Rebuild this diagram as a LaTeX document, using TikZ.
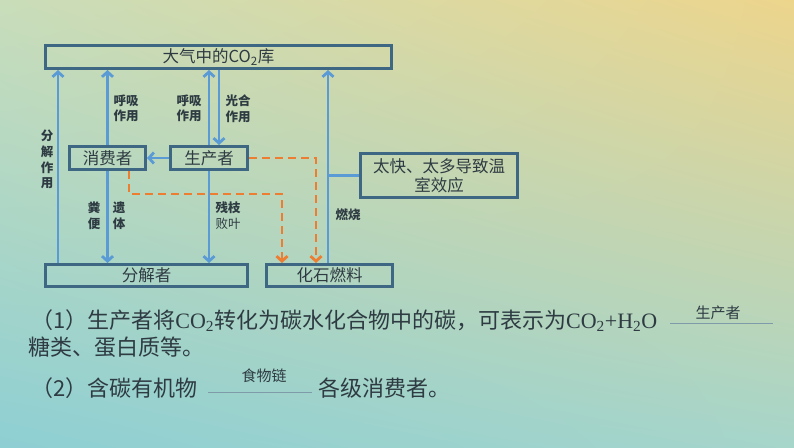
\documentclass[tikz,border=0pt]{standalone}
\usepackage{fontspec}
\setmainfont{Noto Sans CJK SC}
\newfontfamily\lser{Liberation Serif}
\usetikzlibrary{arrows.meta,shadings}
\definecolor{boxc}{HTML}{3E6784}
\definecolor{arrc}{HTML}{5B9BD5}
\definecolor{orc}{HTML}{ED7D31}
\definecolor{txt}{HTML}{2E3B42}
\definecolor{ulc}{HTML}{C9DDBA}
\definecolor{urc}{HTML}{EDD58C}
\definecolor{llc}{HTML}{8ECFD3}
\definecolor{lrc}{HTML}{A6D5CA}
\definecolor{rulec}{HTML}{7F9AA8}
\tikzset{
  box/.style={draw=boxc, line width=3pt, text=txt, font=\fontsize{16.5}{19}\selectfont, inner sep=0pt, minimum height=23pt, align=center},
  lbl/.style={font=\fontsize{12.5}{15.5}\selectfont\bfseries, text=txt, align=center, inner sep=0pt},
  arr/.style={draw=arrc, line width=2.8pt, -{Straight Barb[length=5pt,width=11pt]}},
  plain/.style={draw=arrc, line width=2.8pt},
  dsh/.style={draw=orc, line width=2.8pt, dash pattern=on 8pt off 5pt, -{Straight Barb[length=5pt,width=11pt]}},
  body/.style={font=\fontsize{22}{26}\selectfont, text=txt, inner sep=0pt, anchor=base west},
  small/.style={font=\fontsize{15}{17}\selectfont, text=txt, inner sep=0pt},
  rule/.style={draw=rulec, line width=0.8pt}
}
\begin{document}
\begin{tikzpicture}[x=1pt,y=-1pt]
\shade[upper left=ulc, upper right=urc, lower left=llc, lower right=lrc] (0,0) rectangle (794,447);
\useasboundingbox (0,0) rectangle (794,447);

% boxes
\node[box, minimum width=346pt] (atm) at (218.5,57) {大气中的CO\textsubscript{2}库};
\node[box, minimum width=76pt] (cons) at (107.5,158) {消费者};
\node[box, minimum width=77pt] (prod) at (209,158) {生产者};
\node[box, minimum width=202pt, minimum height=22pt] (dec) at (146.5,275.5) {分解者};
\node[box, minimum width=126pt, minimum height=22pt] (fossil) at (329.5,275.5) {化石燃料};
\node[box, minimum width=157pt, minimum height=44pt] (warm) at (439,175.5) {太快、太多导致温\\室效应};

% helper coordinates
\coordinate (xL) at (58,0);
\coordinate (xP1) at (209,0);
\coordinate (xP2) at (219,0);
\coordinate (xF) at (328,0);
\coordinate (jn) at (328,175.5);
\coordinate (xD1) at (316,0);
\coordinate (c2) at (129,194);
\coordinate (xD3) at (282,0);

% blue arrows
\draw[arr] (dec.north -| xL) -- (atm.south -| xL);
\draw[arr] (cons.north) -- (atm.south -| cons.north);
\draw[arr] (prod.north -| xP1) -- (atm.south -| xP1);
\draw[arr] (atm.south -| xP2) -- (prod.north -| xP2);
\draw[arr] (prod.west) -- (cons.east);
\draw[arr] (cons.south) -- (dec.north -| cons.south);
\draw[arr] (prod.south -| xP1) -- (dec.north -| xP1);
\draw[arr] (fossil.north -| xF) -- (atm.south -| xF);
\draw[plain] (jn) -- (warm.west);

% orange dashed
\draw[dsh] (prod.east) -- (prod.east -| xD1) -- (fossil.north -| xD1);
\draw[dsh] (cons.south -| c2) -- (c2) -- (c2 -| xD3) -- (fossil.north -| xD3);

% labels
\node[lbl] (l1) at (126,108.5) {呼吸\\作用};
\node[lbl] (l2) at (189,108.5) {呼吸\\作用};
\node[lbl] (l3) at (238,108.5) {光合\\作用};
\node[lbl, font=\fontsize{12.5}{15.7}\selectfont\bfseries] (l4) at (47,159.5) {分\\解\\作\\用};
\node[lbl] (l5) at (94,215.5) {粪\\便};
\node[lbl] (l6) at (119,215.5) {遗\\体};
\node[lbl] (l7) at (228,215.5) {残枝\\\mdseries 败叶};
\node[lbl] (l8) at (348,215) {燃烧};

% lower text
\node[body] (t1) at (31,328.5) {（1）生产者将{\lser CO\textsubscript{2}}转化为碳水化合物中的碳，可表示为{\lser CO\textsubscript{2}+H\textsubscript{2}O}};
\node[body] (t2) at (28,355.5) {糖类、蛋白质等。};
\node[body] (t3) at (31,396.5) {（2）含碳有机物};
\node[body] (t4) at (318,396.5) {各级消费者。};
\coordinate (r1a) at (670,323);
\coordinate (r1b) at (773,323);
\draw[rule] (r1a) -- (r1b);
\node[small] (s1) at (718,313) {生产者};
\coordinate (r2a) at (208,392);
\coordinate (r2b) at (312,392);
\draw[rule] (r2a) -- (r2b);
\node[small] (s2) at (264,376) {食物链};
\end{tikzpicture}
\end{document}
